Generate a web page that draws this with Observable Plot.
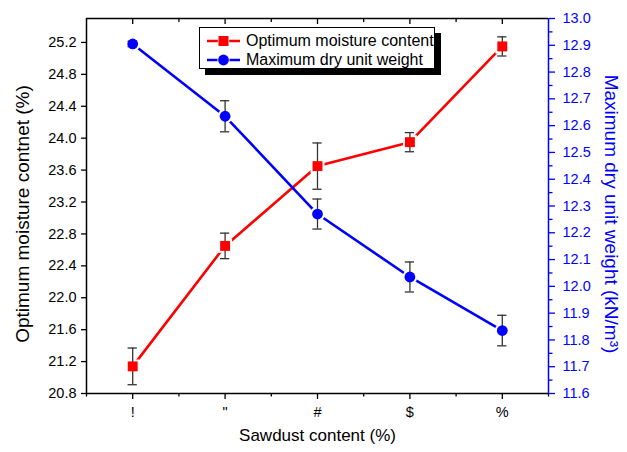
<!DOCTYPE html>
<html><head><meta charset="utf-8">
<script src="https://cdn.jsdelivr.net/npm/d3@7"></script>
<script src="https://cdn.jsdelivr.net/npm/@observablehq/plot@0.6"></script>
<style>
body{margin:0;background:#fff;font-family:"Liberation Sans",Arial,sans-serif;}
#wrap{position:relative;width:627px;height:452px;}
#legend{position:absolute;left:199px;top:27px;width:234px;height:40px;border:1px solid #000;background:#fff;box-shadow:6px 6px 0 #000;font-size:16px;color:#000;}
#legend .row{position:absolute;left:0;height:20px;display:flex;align-items:center;white-space:nowrap;}
#legend svg{margin-left:7px;margin-right:6px;}
</style></head><body><div id="wrap"></div>
<script>
// ---- data ----
const sawdust = [1, 2, 3, 4, 5];
const xTickLabels = ["!", "\"", "#", "$", "%"];
const moisture = [21.14, 22.65, 23.65, 23.95, 25.15];
const moistureErr = [0.23, 0.16, 0.29, 0.12, 0.12];
const dryWeight = [12.905, 12.635, 12.27, 12.035, 11.835];
const dryWeightErr = [0.01, 0.058, 0.056, 0.056, 0.057];
const seriesNames = ["Optimum moisture content", "Maximum dry unit weight"];
const leftTicks = [20.8, 21.2, 21.6, 22.0, 22.4, 22.8, 23.2, 23.6, 24.0, 24.4, 24.8, 25.2];
const rightTicks = [11.6, 11.7, 11.8, 11.9, 12.0, 12.1, 12.2, 12.3, 12.4, 12.5, 12.6, 12.7, 12.8, 12.9, 13.0];
const rightMinorTicks = [11.65, 11.75, 11.85, 11.95, 12.05, 12.15, 12.25, 12.35, 12.45, 12.55, 12.65, 12.75, 12.85, 12.95];
const xMinorTicks = [0.5, 1.5, 2.5, 3.5, 4.5, 5.5];
const xTitle = "Sawdust content (%)";
const yLeftTitle = "Optimum moisture contnet (%)";
const yRightTitle = "Maximum dry unit weight (kN/m³)";

// ---- scales ----
const xDomain = [0.5, 5.5];
const yLeftDomain = [20.8, 25.5];
const yRightDomain = [11.6, 13.0];
const toLeft = d3.scaleLinear(yRightDomain, yLeftDomain);
const RED = "#ff0000", BLUE = "#0000ff";

const rows = sawdust.map((s, i) => ({
  x: s,
  m: moisture[i], mlo: moisture[i] - moistureErr[i], mhi: moisture[i] + moistureErr[i],
  w: toLeft(dryWeight[i]), wlo: toLeft(dryWeight[i] - dryWeightErr[i]), whi: toLeft(dryWeight[i] + dryWeightErr[i])
}));
const capHalf = 0.05;
const errColor = "#333";

const chart = Plot.plot({
  width: 627, height: 452,
  marginLeft: 86, marginRight: 79, marginTop: 18, marginBottom: 59,
  style: {fontFamily: "'Liberation Sans', Arial, sans-serif", fontSize: "14.5px", background: "#fff", color: "#000"},
  x: {domain: xDomain},
  y: {domain: yLeftDomain},
  marks: [
    // frame
    Plot.ruleY([yLeftDomain[0]], {stroke: "#000", strokeWidth: 1.5}),
    Plot.ruleY([yLeftDomain[1]], {stroke: "#000", strokeWidth: 1.5}),
    Plot.ruleX([xDomain[0]], {stroke: "#000", strokeWidth: 1.5}),
    Plot.ruleX([xDomain[1]], {stroke: BLUE, strokeWidth: 1.5}),
    // axes
    Plot.axisY({anchor: "left", ticks: leftTicks, tickSize: 5, tickPadding: 5, tickFormat: d => d.toFixed(1), label: null, strokeWidth: 1.3}),
    Plot.axisY({anchor: "right", ticks: rightTicks.map(v => toLeft(v)), tickSize: 6, tickPadding: 8, tickFormat: d => toLeft.invert(d).toFixed(1), label: null, color: BLUE, strokeWidth: 1.3}),
    Plot.axisY({anchor: "right", ticks: rightMinorTicks.map(v => toLeft(v)), tickSize: 3.5, tickFormat: () => "", label: null, color: BLUE, strokeWidth: 1.3}),
    Plot.axisX({anchor: "bottom", ticks: sawdust, tickSize: 6, tickPadding: 7, tickFormat: d => xTickLabels[sawdust.indexOf(d)], label: null, strokeWidth: 1.3}),
    Plot.axisX({anchor: "bottom", ticks: xMinorTicks, tickSize: 3.5, tickFormat: () => "", label: null, strokeWidth: 1.3}),
    Plot.axisX({anchor: "top", ticks: sawdust, tickSize: -5, tickFormat: () => "", label: null, strokeWidth: 1.3}),
    Plot.axisX({anchor: "top", ticks: xMinorTicks.slice(1, -1), tickSize: -3, tickFormat: () => "", label: null, strokeWidth: 1.3}),
    // lines
    Plot.line(rows, {x: "x", y: "m", stroke: RED, strokeWidth: 2.6}),
    Plot.line(rows, {x: "x", y: "w", stroke: BLUE, strokeWidth: 2.6}),
    // marker halos (line gaps)
    Plot.dot(rows, {x: "x", y: "m", symbol: "square", r: 5.6, fill: RED, stroke: "#fff", strokeWidth: 4}),
    Plot.dot(rows, {x: "x", y: "w", symbol: "circle", r: 5.4, fill: BLUE, stroke: "#fff", strokeWidth: 4}),
    // error bars
    Plot.ruleX(rows, {x: "x", y1: "mlo", y2: "mhi", stroke: errColor, strokeWidth: 1.3}),
    Plot.ruleY(rows, {y: "mlo", x1: d => d.x - capHalf, x2: d => d.x + capHalf, stroke: errColor, strokeWidth: 1.3}),
    Plot.ruleY(rows, {y: "mhi", x1: d => d.x - capHalf, x2: d => d.x + capHalf, stroke: errColor, strokeWidth: 1.3}),
    Plot.ruleX(rows, {x: "x", y1: "wlo", y2: "whi", stroke: errColor, strokeWidth: 1.3}),
    Plot.ruleY(rows, {y: "wlo", x1: d => d.x - capHalf, x2: d => d.x + capHalf, stroke: errColor, strokeWidth: 1.3}),
    Plot.ruleY(rows, {y: "whi", x1: d => d.x - capHalf, x2: d => d.x + capHalf, stroke: errColor, strokeWidth: 1.3}),
    // markers
    Plot.dot(rows, {x: "x", y: "m", symbol: "square", r: 5.6, fill: RED}),
    Plot.dot(rows, {x: "x", y: "w", symbol: "circle", r: 5.4, fill: BLUE}),
    // titles
    Plot.text([xTitle], {text: d => d, frameAnchor: "bottom", dy: 47, textAnchor: "middle", fontSize: 17, fill: "#000"}),
    Plot.text([yLeftTitle], {text: d => d, frameAnchor: "left", dx: -64, dy: 8, textAnchor: "middle", rotate: -90, fontSize: 19, fill: "#000"}),
    Plot.text([yRightTitle], {text: d => d, frameAnchor: "right", dx: 63, dy: 8, textAnchor: "middle", rotate: 90, fontSize: 19, fill: BLUE})
  ]
});

const wrap = document.getElementById("wrap");
wrap.appendChild(chart);

// legend
const legend = document.createElement("div");
legend.id = "legend";
const legendItems = [
  {name: seriesNames[0], color: RED, shape: "square"},
  {name: seriesNames[1], color: BLUE, shape: "circle"}
];
legendItems.forEach((it, i) => {
  const row = document.createElement("div");
  row.className = "row";
  row.style.top = (3 + i * 19) + "px";
  const ns = "http://www.w3.org/2000/svg";
  const svg = document.createElementNS(ns, "svg");
  svg.setAttribute("width", 33); svg.setAttribute("height", 14);
  const ln = document.createElementNS(ns, "line");
  ln.setAttribute("x1", 0); ln.setAttribute("x2", 33); ln.setAttribute("y1", 7); ln.setAttribute("y2", 7);
  ln.setAttribute("stroke", it.color); ln.setAttribute("stroke-width", 2.6);
  svg.appendChild(ln);
  let mk;
  if (it.shape === "square") {
    mk = document.createElementNS(ns, "rect");
    mk.setAttribute("x", 11.5); mk.setAttribute("y", 2); mk.setAttribute("width", 10); mk.setAttribute("height", 10);
  } else {
    mk = document.createElementNS(ns, "circle");
    mk.setAttribute("cx", 16.5); mk.setAttribute("cy", 7); mk.setAttribute("r", 5.4);
  }
  mk.setAttribute("fill", it.color);
  mk.setAttribute("stroke", "#fff"); mk.setAttribute("stroke-width", 1.5);
  mk.setAttribute("paint-order", "stroke");
  svg.appendChild(mk);
  row.appendChild(svg);
  const span = document.createElement("span");
  span.textContent = it.name;
  row.appendChild(span);
  legend.appendChild(row);
});
wrap.appendChild(legend);
</script>
</body></html>
